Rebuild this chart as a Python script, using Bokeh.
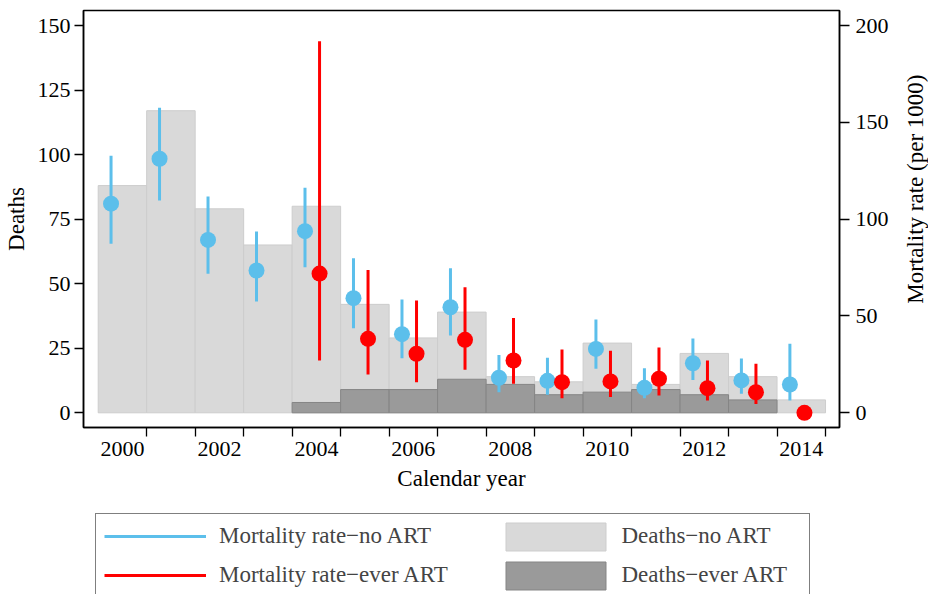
import math
import numpy as np
from bokeh.plotting import figure
from bokeh.layouts import row, column
from bokeh.models import Range1d, LinearAxis, FixedTicker, Legend, LegendItem
from bokeh.core.properties import value
from bokeh.embed import file_html
from bokeh.resources import INLINE

# ---- data ----
years = [2000, 2001, 2002, 2003, 2004, 2005, 2006, 2007, 2008, 2009, 2010, 2011, 2012, 2013, 2014]
deaths_no_art = [88, 117, 79, 65, 80, 42, 29, 39, 14, 12, 27, 11, 23, 14, 5]

art_bar_years = [2004, 2005, 2006, 2007, 2008, 2009, 2010, 2011, 2012, 2013]
deaths_ever_art = [4, 9, 9, 13, 11, 7, 8, 9, 7, 5]

rate_no_art = [108.0, 131.2, 89.3, 73.5, 93.8, 59.2, 40.6, 54.5, 18.1, 16.5, 33.0, 12.9, 25.6, 16.7, 14.6]
rate_no_art_lo = [87.3, 109.6, 71.8, 57.5, 75.2, 43.7, 28.2, 39.9, 10.6, 9.3, 22.7, 7.5, 17.0, 9.8, 6.4]
rate_no_art_hi = [132.7, 157.5, 111.7, 93.6, 116.2, 79.8, 58.5, 74.7, 29.9, 28.4, 48.2, 23.0, 38.4, 28.0, 35.6]

art_years = [2004, 2005, 2006, 2007, 2008, 2009, 2010, 2011, 2012, 2013, 2014]
rate_ever_art = [71.9, 38.2, 30.5, 37.7, 27.0, 15.8, 16.2, 17.6, 12.7, 10.6, 0.0]
rate_ever_art_lo = [27.0, 19.8, 15.8, 22.2, 15.0, 7.5, 8.1, 8.9, 6.4, 4.6, float("nan")]
rate_ever_art_hi = [191.9, 73.8, 58.0, 64.9, 48.9, 32.7, 32.0, 33.7, 27.0, 25.3, float("nan")]

x_tick_labels = [2000, 2002, 2004, 2006, 2008, 2010, 2012, 2014]
deaths_ticks = [0, 25, 50, 75, 100, 125, 150]
rate_ticks = [0, 50, 100, 150, 200]

# ---- style ----
FONT = "Liberation Serif"
BLUE = "#5CBFEB"
RED = "#FF0000"
LIGHT = "#D9D9D9"
LIGHT_EDGE = "#CDCDCD"
DARK = "#9A9A9A"
DARK_EDGE = "#858585"
BLUE_OFF = -0.235
RED_OFF = 0.065

W = 928
H = 594
LAB_W = 28
TOP_H = 510
TOP = 10
FRAME_H = 417
LEG_H = H - TOP_H

X_RANGE = (1999.197, 2014.788)
DEATH_RANGE = (-5.69, 155.81)
RATE_RANGE = (-7.59, 207.75)

yr = np.array(years, dtype=float)
ay = np.array(art_bar_years, dtype=float)
bx = yr + BLUE_OFF
rx = np.array(art_years, dtype=float) + RED_OFF
lo = np.array(rate_ever_art_lo)
hi = np.array(rate_ever_art_hi)
m = ~np.isnan(lo)


def draw_series(fig):
    light = fig.quad(left=yr - 0.5, right=yr + 0.5, bottom=0, top=deaths_no_art,
                     fill_color=LIGHT, line_color=LIGHT_EDGE, line_width=1)
    dark = fig.quad(left=ay - 0.5, right=ay + 0.5, bottom=0, top=deaths_ever_art,
                    fill_color=DARK, line_color=DARK_EDGE, line_width=1)
    bseg = fig.segment(x0=bx, y0=rate_no_art_lo, x1=bx, y1=rate_no_art_hi,
                       line_color=BLUE, line_width=3, y_range_name="rate")
    fig.scatter(x=bx, y=rate_no_art, size=16, fill_color=BLUE, line_color=None,
                y_range_name="rate")
    rseg = fig.segment(x0=rx[m], y0=lo[m], x1=rx[m], y1=hi[m],
                       line_color=RED, line_width=3, y_range_name="rate")
    fig.scatter(x=rx, y=rate_ever_art, size=16, fill_color=RED, line_color=None,
                y_range_name="rate")
    return light, dark, bseg, rseg


# ---- main chart ----
p = figure(width=W - LAB_W, height=TOP_H,
           x_range=Range1d(*X_RANGE), y_range=Range1d(*DEATH_RANGE),
           output_backend="svg", toolbar_location=None,
           min_border_left=82, min_border_right=W - LAB_W - 82 - 757,
           min_border_top=TOP, min_border_bottom=TOP_H - TOP - FRAME_H)
p.extra_y_ranges = {"rate": Range1d(*RATE_RANGE)}
p.xgrid.visible = False
p.ygrid.visible = False
p.outline_line_color = "black"
p.outline_line_width = 1.5
p.background_fill_color = "white"
p.border_fill_color = "white"
draw_series(p)


def style_axis(ax):
    ax.axis_line_color = "black"
    ax.axis_line_width = 1.5
    ax.major_tick_line_color = "black"
    ax.major_tick_line_width = 1.3
    ax.minor_tick_line_color = None
    ax.major_tick_in = 0
    ax.major_tick_out = 9
    ax.major_label_text_font = FONT
    ax.major_label_text_font_size = "22px"
    ax.major_label_text_color = "black"
    ax.axis_label_text_font = FONT
    ax.axis_label_text_font_size = "23px"
    ax.axis_label_text_font_style = "normal"
    ax.axis_label_text_color = "black"


ly = p.yaxis[0]
style_axis(ly)
ly.ticker = FixedTicker(ticks=deaths_ticks)
ly.axis_label = "Deaths"
ly.major_label_standoff = 4
ly.axis_label_standoff = 6

ry = LinearAxis(y_range_name="rate", ticker=FixedTicker(ticks=rate_ticks))
style_axis(ry)
ry.major_tick_out = 10
ry.major_label_standoff = 6
p.add_layout(ry, "right")

xa = p.xaxis[0]
style_axis(xa)
xa.ticker = FixedTicker(ticks=x_tick_labels, minor_ticks=[y + 0.5 for y in years])
xa.major_tick_out = 0
xa.minor_tick_line_color = "black"
xa.minor_tick_line_width = 1.3
xa.minor_tick_in = 0
xa.minor_tick_out = 9
xa.major_label_standoff = 5
xa.axis_label = "Calendar year"
xa.axis_label_standoff = 7

# ---- right-hand axis title (reads bottom to top) ----
lab = figure(width=LAB_W, height=TOP_H, x_range=Range1d(0, LAB_W), y_range=Range1d(0, TOP_H),
             output_backend="svg", toolbar_location=None,
             x_axis_location=None, y_axis_location=None, min_border=0)
lab.xgrid.visible = False
lab.ygrid.visible = False
lab.outline_line_color = None
lab.text(x=[14.5], y=[TOP_H - TOP - FRAME_H / 2], text=["Mortality rate (per 1000)"],
         angle=math.pi / 2, text_align="center", text_baseline="middle",
         text_font=value(FONT), text_font_size="23px", text_color="black")

# ---- legend strip (same series, drawn outside its view so only the key shows) ----
lg = figure(width=W, height=LEG_H, x_range=Range1d(0, 1), y_range=Range1d(0, 1),
            output_backend="svg", toolbar_location=None,
            x_axis_location=None, y_axis_location=None, min_border=0)
lg.extra_y_ranges = {"rate": Range1d(0, 1)}
lg.xgrid.visible = False
lg.ygrid.visible = False
lg.outline_line_color = None
g_light, g_dark, g_bseg, g_rseg = draw_series(lg)

legA = Legend(items=[LegendItem(label="Mortality rate\u2212no ART", renderers=[g_bseg]),
                     LegendItem(label="Mortality rate\u2212ever ART", renderers=[g_rseg])],
              location=(95, -4), orientation="vertical",
              glyph_width=102, glyph_height=28, label_height=28, label_width=582,
              label_standoff=13, spacing=11, padding=8, margin=0,
              label_text_font=FONT, label_text_font_size="23px",
              border_line_color="black", border_line_width=1.3,
              background_fill_color="white", background_fill_alpha=1)
legB = Legend(items=[LegendItem(label="Deaths\u2212no ART", renderers=[g_light]),
                     LegendItem(label="Deaths\u2212ever ART", renderers=[g_dark])],
              location=(492.5, 1.5), orientation="vertical",
              glyph_width=125, glyph_height=35, label_height=35,
              label_standoff=4, spacing=4, padding=0, margin=0,
              label_text_font=FONT, label_text_font_size="23px",
              border_line_color=None, background_fill_alpha=0)
lg.add_layout(legA, "center")
lg.add_layout(legB, "center")

layout = column(row(p, lab), lg)
open("out.html", "w").write(file_html(layout, INLINE))
